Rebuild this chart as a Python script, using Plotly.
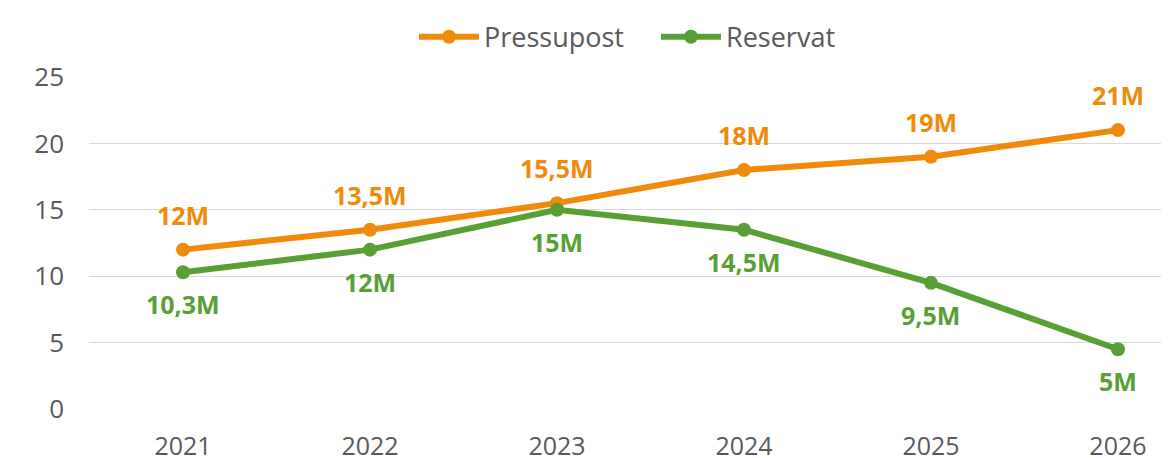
import plotly.graph_objects as go

years = [2021, 2022, 2023, 2024, 2025, 2026]
pressupost = [12, 13.5, 15.5, 18, 19, 21]
reservat = [10.3, 12, 15, 13.5, 9.5, 4.5]
pressupost_labels = ["12M", "13,5M", "15,5M", "18M", "19M", "21M"]
reservat_labels = ["10,3M", "12M", "15M", "14,5M", "9,5M", "5M"]
y_ticks = [0, 5, 10, 15, 20, 25]

ORANGE = "#F08A0A"
GREEN = "#58A035"
TEXT = "#595959"
FONT = "Open Sans"

fig = go.Figure()
fig.add_trace(go.Scatter(
    x=years, y=pressupost, name="Pressupost", mode="lines+markers",
    line=dict(color=ORANGE, width=6), marker=dict(color=ORANGE, size=14),
))
fig.add_trace(go.Scatter(
    x=years, y=reservat, name="Reservat", mode="lines+markers",
    line=dict(color=GREEN, width=6), marker=dict(color=GREEN, size=14),
))

for x, y, t in zip(years, pressupost, pressupost_labels):
    fig.add_annotation(x=x, y=y, text=t, showarrow=False, yshift=35,
                       font=dict(family=FONT, size=25, color=ORANGE, weight="bold"))
for x, y, t in zip(years, reservat, reservat_labels):
    fig.add_annotation(x=x, y=y, text=t, showarrow=False, yshift=-32,
                       font=dict(family=FONT, size=25, color=GREEN, weight="bold"))

fig.update_layout(
    width=1161, height=450,
    margin=dict(l=81, r=0, t=69, b=49, autoexpand=False),
    paper_bgcolor="white", plot_bgcolor="white",
    font=dict(family=FONT, size=26, color=TEXT),
    showlegend=True,
    legend=dict(orientation="h", x=0.525, xanchor="center", y=1.12, yanchor="middle",
                font=dict(family=FONT, size=27, color=TEXT),
                itemwidth=60, entrywidth=167, traceorder="normal"),
    xaxis=dict(range=[2020.497, 2026.273], tickvals=years, ticktext=[str(y) for y in years],
               showgrid=False, zeroline=False, showline=False, ticks="",
               ticklabelstandoff=20, automargin=False,
               tickfont=dict(size=25, color=TEXT)),
    yaxis=dict(range=[0, 25], tickvals=y_ticks, showgrid=True, gridcolor="#D9D9D9",
               gridwidth=1, zeroline=False, showline=False, ticks="",
               ticklabelstandoff=24, automargin=False,
               tickfont=dict(size=26, color=TEXT)),
)

fig.write_html("out.html")
